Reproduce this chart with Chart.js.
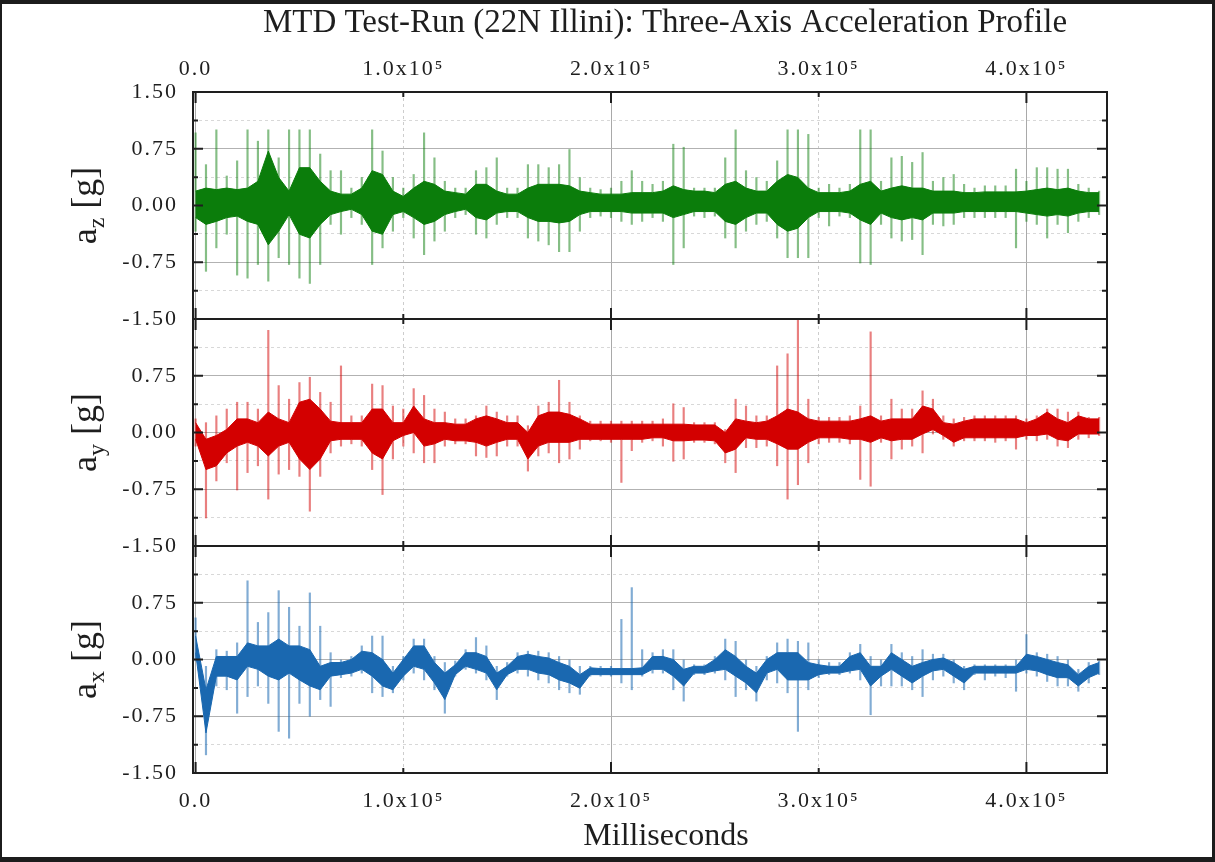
<!DOCTYPE html>
<html>
<head>
<meta charset="utf-8">
<title>MTD Test-Run (22N Illini): Three-Axis Acceleration Profile</title>
<script src="https://cdn.jsdelivr.net/npm/chart.js@4.4.1/dist/chart.umd.min.js"></script>
<style>
  html, body { margin: 0; padding: 0; background: #fff; }
  #wrap { position: relative; width: 1215px; height: 862px; overflow: hidden; }
  #edge {
    position: absolute; left: 0; top: 0; width: 1215px; height: 862px; box-sizing: border-box;
    border-top: 4px solid #1c1c1c; border-bottom: 5px solid #1c1c1c;
    border-left: 2px solid #1c1c1c; border-right: 3px solid #1c1c1c;
    pointer-events: none;
  }
</style>
</head>
<body>
<div id="wrap">
  <canvas id="accel" width="1215" height="862"></canvas>
  <div id="edge"></div>
</div>
<script>
// Time bins (ms), one every 5000 ms
const timeMs = [
  0, 5000, 10000, 15000, 20000, 25000, 30000, 35000, 40000, 45000,
  50000, 55000, 60000, 65000, 70000, 75000, 80000, 85000, 90000, 95000,
  100000, 105000, 110000, 115000, 120000, 125000, 130000, 135000, 140000, 145000,
  150000, 155000, 160000, 165000, 170000, 175000, 180000, 185000, 190000, 195000,
  200000, 205000, 210000, 215000, 220000, 225000, 230000, 235000, 240000, 245000,
  250000, 255000, 260000, 265000, 270000, 275000, 280000, 285000, 290000, 295000,
  300000, 305000, 310000, 315000, 320000, 325000, 330000, 335000, 340000, 345000,
  350000, 355000, 360000, 365000, 370000, 375000, 380000, 385000, 390000, 395000,
  400000, 405000, 410000, 415000, 420000, 425000, 430000, 435000
];

// tick values
const xTickMs = [0, 100000, 200000, 300000, 400000];
const yTickG = [-1.5, -1.125, -0.75, -0.375, 0, 0.375, 0.75, 1.125, 1.5];

// a_z [g] : dense band (core) and spike extent (peak) per bin
const azCoreHi = [
  0.19, 0.23, 0.21, 0.23, 0.21, 0.23, 0.32, 0.72, 0.37, 0.19,
  0.50, 0.50, 0.32, 0.19, 0.15, 0.15, 0.23, 0.46, 0.41, 0.19,
  0.12, 0.23, 0.32, 0.28, 0.19, 0.17, 0.15, 0.28, 0.28, 0.19,
  0.15, 0.15, 0.23, 0.28, 0.28, 0.28, 0.26, 0.19, 0.17, 0.15,
  0.15, 0.15, 0.17, 0.17, 0.17, 0.19, 0.26, 0.21, 0.19, 0.19,
  0.17, 0.28, 0.32, 0.23, 0.19, 0.19, 0.32, 0.41, 0.37, 0.23,
  0.17, 0.17, 0.17, 0.19, 0.28, 0.32, 0.19, 0.23, 0.26, 0.23,
  0.23, 0.19, 0.19, 0.19, 0.17, 0.17, 0.18, 0.18, 0.18, 0.18,
  0.19, 0.21, 0.23, 0.21, 0.23, 0.19, 0.17, 0.17
];
const azCoreLo = [
  -0.16, -0.25, -0.21, -0.16, -0.14, -0.21, -0.25, -0.52, -0.34, -0.12,
  -0.38, -0.43, -0.25, -0.12, -0.08, -0.05, -0.12, -0.34, -0.38, -0.12,
  -0.08, -0.16, -0.25, -0.21, -0.12, -0.08, -0.05, -0.16, -0.19, -0.10,
  -0.08, -0.08, -0.16, -0.21, -0.21, -0.23, -0.21, -0.12, -0.08, -0.08,
  -0.08, -0.08, -0.10, -0.10, -0.10, -0.10, -0.16, -0.12, -0.08, -0.08,
  -0.08, -0.21, -0.25, -0.16, -0.10, -0.10, -0.25, -0.34, -0.30, -0.16,
  -0.08, -0.08, -0.08, -0.10, -0.19, -0.25, -0.10, -0.16, -0.19, -0.16,
  -0.19, -0.10, -0.10, -0.10, -0.08, -0.08, -0.08, -0.08, -0.08, -0.08,
  -0.10, -0.12, -0.14, -0.12, -0.14, -0.10, -0.08, -0.08
];
const azPeakHi = [
  0.96, 0.54, 1.00, 0.39, 0.59, 1.00, 0.85, 1.00, 0.63, 1.00,
  1.00, 1.00, 0.68, 0.46, 0.46, 0.23, 0.37, 1.00, 0.72, 0.37,
  0.23, 0.41, 0.96, 0.63, 0.32, 0.23, 0.23, 0.46, 0.50, 0.63,
  0.23, 0.23, 0.54, 0.54, 0.50, 0.54, 0.74, 0.37, 0.23, 0.21,
  0.23, 0.32, 0.46, 0.32, 0.28, 0.32, 0.81, 0.77, 0.23, 0.23,
  0.23, 0.63, 1.00, 0.46, 0.37, 0.32, 0.59, 1.00, 1.00, 0.94,
  0.23, 0.28, 0.23, 0.28, 1.00, 1.00, 0.32, 0.63, 0.65, 0.57,
  0.70, 0.32, 0.37, 0.41, 0.28, 0.23, 0.26, 0.26, 0.26, 0.48,
  0.32, 0.50, 0.50, 0.48, 0.48, 0.28, 0.23, 0.19
];
const azPeakLo = [
  -0.34, -0.87, -0.56, -0.38, -0.92, -0.96, -0.78, -1.00, -0.69, -0.78,
  -0.96, -1.03, -0.78, -0.25, -0.38, -0.16, -0.25, -0.78, -0.56, -0.34,
  -0.16, -0.43, -0.65, -0.47, -0.34, -0.16, -0.12, -0.38, -0.43, -0.25,
  -0.16, -0.16, -0.43, -0.47, -0.52, -0.61, -0.61, -0.34, -0.16, -0.14,
  -0.16, -0.21, -0.25, -0.21, -0.16, -0.21, -0.78, -0.56, -0.14, -0.16,
  -0.14, -0.43, -0.56, -0.34, -0.25, -0.21, -0.43, -0.69, -0.69, -0.69,
  -0.16, -0.27, -0.14, -0.16, -0.76, -0.78, -0.25, -0.43, -0.47, -0.45,
  -0.65, -0.25, -0.27, -0.25, -0.16, -0.16, -0.16, -0.16, -0.16, -0.56,
  -0.21, -0.25, -0.43, -0.25, -0.36, -0.21, -0.16, -0.12
];

// a_y [g]
const ayCoreHi = [
  0.13, -0.09, -0.04, 0.04, 0.18, 0.18, 0.13, 0.27, 0.18, 0.13,
  0.40, 0.44, 0.31, 0.15, 0.13, 0.13, 0.13, 0.31, 0.31, 0.13,
  0.13, 0.35, 0.18, 0.13, 0.13, 0.11, 0.11, 0.18, 0.22, 0.18,
  0.13, 0.13, 0.00, 0.22, 0.27, 0.27, 0.24, 0.18, 0.11, 0.11,
  0.11, 0.11, 0.11, 0.11, 0.11, 0.11, 0.11, 0.11, 0.10, 0.10,
  0.10, 0.00, 0.18, 0.15, 0.13, 0.15, 0.22, 0.31, 0.27, 0.18,
  0.15, 0.15, 0.15, 0.15, 0.18, 0.22, 0.15, 0.18, 0.18, 0.18,
  0.35, 0.31, 0.13, 0.11, 0.15, 0.18, 0.18, 0.18, 0.18, 0.18,
  0.13, 0.18, 0.27, 0.18, 0.13, 0.22, 0.18, 0.18
];
const ayCoreLo = [
  -0.09, -0.49, -0.44, -0.27, -0.18, -0.13, -0.18, -0.31, -0.18, -0.13,
  -0.35, -0.49, -0.35, -0.11, -0.09, -0.09, -0.09, -0.27, -0.35, -0.11,
  -0.04, 0.00, -0.18, -0.15, -0.09, -0.11, -0.11, -0.13, -0.18, -0.13,
  -0.09, -0.09, -0.35, -0.18, -0.13, -0.13, -0.13, -0.09, -0.09, -0.09,
  -0.09, -0.09, -0.09, -0.09, -0.07, -0.07, -0.11, -0.11, -0.10, -0.10,
  -0.11, -0.27, -0.22, -0.07, -0.09, -0.09, -0.15, -0.22, -0.22, -0.13,
  -0.07, -0.07, -0.07, -0.09, -0.09, -0.13, -0.07, -0.11, -0.09, -0.09,
  -0.02, 0.04, -0.04, -0.13, -0.07, -0.07, -0.07, -0.07, -0.07, -0.07,
  -0.04, -0.04, -0.02, -0.09, -0.11, -0.02, -0.02, -0.02
];
const ayPeakHi = [
  0.18, 0.13, 0.22, 0.31, 0.40, 0.40, 0.31, 1.35, 0.62, 0.44,
  0.66, 0.73, 0.53, 0.40, 0.88, 0.22, 0.22, 0.64, 0.62, 0.35,
  0.31, 0.58, 0.49, 0.31, 0.27, 0.18, 0.18, 0.22, 0.35, 0.27,
  0.22, 0.22, 0.09, 0.35, 0.40, 0.69, 0.40, 0.22, 0.15, 0.15,
  0.15, 0.15, 0.15, 0.15, 0.15, 0.18, 0.38, 0.33, 0.13, 0.13,
  0.13, 0.04, 0.44, 0.35, 0.22, 0.22, 0.88, 1.04, 1.50, 0.44,
  0.20, 0.20, 0.20, 0.22, 0.35, 1.33, 0.22, 0.44, 0.31, 0.31,
  0.55, 0.44, 0.22, 0.18, 0.20, 0.22, 0.22, 0.22, 0.22, 0.22,
  0.18, 0.22, 0.31, 0.31, 0.27, 0.27, 0.20, 0.20
];
const ayPeakLo = [
  -0.18, -1.13, -0.64, -0.40, -0.76, -0.53, -0.44, -0.88, -0.55, -0.49,
  -0.58, -1.04, -0.58, -0.27, -0.18, -0.15, -0.18, -0.49, -0.82, -0.35,
  -0.18, -0.27, -0.40, -0.40, -0.18, -0.15, -0.15, -0.31, -0.33, -0.31,
  -0.18, -0.18, -0.51, -0.31, -0.27, -0.40, -0.35, -0.22, -0.11, -0.11,
  -0.13, -0.66, -0.24, -0.13, -0.11, -0.18, -0.38, -0.35, -0.13, -0.13,
  -0.15, -0.40, -0.53, -0.20, -0.20, -0.18, -0.44, -0.88, -0.69, -0.40,
  -0.15, -0.13, -0.13, -0.15, -0.62, -0.71, -0.13, -0.35, -0.22, -0.18,
  -0.27, -0.02, -0.09, -0.18, -0.11, -0.11, -0.11, -0.13, -0.11, -0.22,
  -0.09, -0.11, -0.09, -0.18, -0.20, -0.09, -0.07, -0.04
];

// a_x [g]
const axCoreHi = [
  0.31, -0.40, 0.04, 0.04, 0.04, 0.22, 0.18, 0.18, 0.27, 0.18,
  0.18, 0.13, -0.09, -0.04, -0.04, 0.00, 0.11, 0.09, 0.00, -0.18,
  0.00, 0.18, 0.18, -0.04, -0.18, -0.07, 0.09, 0.09, 0.04, -0.18,
  -0.09, 0.04, 0.07, 0.04, 0.02, -0.04, -0.09, -0.20, -0.11, -0.12,
  -0.12, -0.12, -0.12, -0.11, 0.04, 0.04, 0.00, -0.13, -0.09, -0.09,
  0.00, 0.13, 0.04, -0.09, -0.18, 0.00, 0.09, 0.09, 0.09, -0.04,
  -0.07, -0.09, -0.09, 0.04, 0.09, -0.09, -0.09, 0.09, 0.00, -0.09,
  -0.04, 0.00, 0.02, -0.04, -0.13, -0.09, -0.09, -0.09, -0.09, -0.09,
  0.07, 0.04, 0.00, -0.04, -0.07, -0.20, -0.09, -0.04
];
const axCoreLo = [
  0.09, -0.97, -0.22, -0.22, -0.27, -0.09, -0.13, -0.22, -0.27, -0.18,
  -0.27, -0.35, -0.40, -0.22, -0.20, -0.18, -0.13, -0.22, -0.35, -0.40,
  -0.22, -0.09, -0.13, -0.31, -0.53, -0.20, -0.09, -0.13, -0.18, -0.40,
  -0.20, -0.13, -0.13, -0.18, -0.20, -0.27, -0.31, -0.38, -0.20, -0.20,
  -0.20, -0.20, -0.20, -0.20, -0.13, -0.13, -0.22, -0.35, -0.18, -0.18,
  -0.15, -0.13, -0.22, -0.31, -0.44, -0.18, -0.13, -0.27, -0.27, -0.27,
  -0.20, -0.18, -0.18, -0.15, -0.13, -0.35, -0.22, -0.13, -0.22, -0.31,
  -0.22, -0.15, -0.13, -0.22, -0.31, -0.18, -0.18, -0.18, -0.18, -0.18,
  -0.13, -0.15, -0.20, -0.24, -0.24, -0.35, -0.24, -0.18
];
const axPeakHi = [
  0.55, -0.09, 0.13, 0.11, 0.22, 1.04, 0.49, 0.62, 0.91, 0.69,
  0.44, 0.88, 0.44, 0.09, 0.00, 0.04, 0.18, 0.31, 0.31, -0.09,
  0.04, 0.27, 0.27, 0.04, -0.04, -0.02, 0.13, 0.29, 0.18, -0.09,
  -0.04, 0.09, 0.11, 0.11, 0.09, 0.04, 0.00, -0.09, -0.09, -0.09,
  -0.09, 0.53, 0.95, 0.13, 0.09, 0.13, 0.13, 0.00, -0.07, -0.07,
  0.04, 0.27, 0.24, 0.00, -0.09, 0.04, 0.22, 0.27, 0.24, 0.22,
  0.00, -0.04, -0.04, 0.09, 0.20, 0.04, 0.00, 0.20, 0.09, 0.04,
  0.13, 0.07, 0.07, 0.00, -0.09, -0.07, -0.07, -0.07, -0.07, 0.00,
  0.33, 0.09, 0.07, 0.04, 0.00, -0.13, -0.04, -0.02
];
const axPeakLo = [
  -0.02, -1.26, -0.35, -0.40, -0.71, -0.49, -0.35, -0.58, -0.95, -1.04,
  -0.58, -0.75, -0.53, -0.62, -0.24, -0.22, -0.18, -0.44, -0.49, -0.44,
  -0.27, -0.18, -0.27, -0.40, -0.71, -0.22, -0.13, -0.18, -0.27, -0.53,
  -0.22, -0.18, -0.22, -0.27, -0.31, -0.40, -0.44, -0.46, -0.22, -0.22,
  -0.22, -0.31, -0.40, -0.22, -0.18, -0.18, -0.40, -0.55, -0.20, -0.20,
  -0.18, -0.27, -0.49, -0.40, -0.55, -0.27, -0.31, -0.44, -0.95, -0.40,
  -0.24, -0.20, -0.20, -0.18, -0.27, -0.73, -0.35, -0.35, -0.35, -0.40,
  -0.49, -0.27, -0.22, -0.31, -0.40, -0.20, -0.27, -0.22, -0.24, -0.42,
  -0.18, -0.22, -0.29, -0.35, -0.35, -0.42, -0.31, -0.20
];

const titleText = 'MTD Test-Run (22N Illini): Three-Axis Acceleration Profile';
const xTitleText = 'Milliseconds';

const SERIF = '"Liberation Serif", "Times New Roman", serif';
const INK = '#1e1e1e';

// major step 0.75 g, minor 0.375 g (dashed); x major every 2e5 ms, minor in between
const isMinorY = v => Math.abs(v / 0.75 - Math.round(v / 0.75)) > 1e-6;
const isMinorX = v => Math.abs(v / 200000 - Math.round(v / 200000)) > 1e-6;

const fmtMs = v => v === 0 ? '0.0' : (v / 100000).toFixed(1) + 'x10\u2075';

function toPoints(values) {
    return values.map((v, i) => ({ x: timeMs[i], y: v }));
}

function panelDatasets(axisId, color, faded, coreHi, coreLo, peakHi, peakLo) {
    return [
        {
            type: 'line', yAxisID: axisId, data: toPoints(coreHi),
            borderColor: color, backgroundColor: color, borderWidth: 1,
            pointRadius: 0, tension: 0, fill: '+1', order: 0
        },
        {
            type: 'line', yAxisID: axisId, data: toPoints(coreLo),
            borderColor: color, borderWidth: 1,
            pointRadius: 0, tension: 0, fill: false, order: 0
        },
        {
            type: 'bar', yAxisID: axisId, grouped: false,
            data: peakHi.map((v, i) => ({ x: timeMs[i], y: [peakLo[i], v] })),
            backgroundColor: faded, borderWidth: 0, barThickness: 1.5, order: 1
        }
    ];
}

function panelAxis(showTopLabel) {
    return {
        type: 'linear', position: 'left', stack: 'panels', stackWeight: 1,
        min: -1.5, max: 1.5, beginAtZero: false,
        afterFit: (scale) => { scale.width = 193; },
        afterBuildTicks: (scale) => { scale.ticks = yTickG.map(v => ({ value: v })); },
        border: { display: false, dash: (ctx) => (ctx.tick && isMinorY(ctx.tick.value)) ? [3, 3] : [] },
        grid: {
            drawTicks: false, lineWidth: 1,
            color: (ctx) => (ctx.tick && isMinorY(ctx.tick.value)) ? '#d8d8d8' : '#b2b2b2'
        },
        ticks: {
            padding: 15, autoSkip: false, color: INK,
            font: { family: SERIF, size: 22 },
            callback: (v) => {
                if (isMinorY(v)) return '';
                if (!showTopLabel && v === 1.5) return '';
                return v.toFixed(2);
            }
        }
    };
}

function timeAxis(position, height, pad) {
    return {
        type: 'linear', position: position, min: -1250, max: 438800,
        offset: false,
        afterFit: (scale) => { scale.height = height; },
        afterBuildTicks: (scale) => { scale.ticks = xTickMs.map(v => ({ value: v })); },
        border: { display: false, dash: (ctx) => (ctx.tick && isMinorX(ctx.tick.value)) ? [3, 3] : [] },
        grid: {
            offset: false, drawTicks: false, lineWidth: 1, drawOnChartArea: position === 'bottom',
            color: (ctx) => (ctx.tick && isMinorX(ctx.tick.value)) ? '#cdcdcd' : '#a9a9a9'
        },
        ticks: {
            padding: pad, autoSkip: false, maxRotation: 0, minRotation: 0,
            color: INK, font: { family: SERIF, size: 22 },
            callback: fmtMs
        }
    };
}

// Moldura preta dos três painéis com ticks para dentro
const panelFrame = {
    id: 'panelFrame',
    beforeDraw(chart) {
        chart.ctx.letterSpacing = '2px';
    },
    afterDatasetsDraw(chart) {
        const { ctx, chartArea: area, scales } = chart;
        const xs = scales.x;
        const seg = (x1, y1, x2, y2) => { ctx.moveTo(x1, y1); ctx.lineTo(x2, y2); };
        ctx.save();
        ctx.strokeStyle = INK;
        ctx.lineWidth = 2;
        [scales.yz, scales.yy, scales.yx].forEach((s) => {
            ctx.beginPath();
            s.ticks.forEach((t) => {
                const y = s.getPixelForValue(t.value);
                const len = isMinorY(t.value) ? 5 : 10;
                seg(area.left, y, area.left + len, y);
                seg(area.right, y, area.right - len, y);
            });
            xs.ticks.forEach((t) => {
                const x = xs.getPixelForValue(t.value);
                const len = isMinorX(t.value) ? 5 : 11;
                seg(x, s.top, x, s.top + len);
                seg(x, s.bottom, x, s.bottom - len);
            });
            ctx.stroke();
            ctx.strokeRect(area.left, s.top, area.right - area.left, s.bottom - s.top);
        });
        ctx.restore();
    }
};

// Títulos: principal, eixo x e a_z / a_y / a_x com subscrito
const axisTitles = {
    id: 'axisTitles',
    afterDraw(chart) {
        const { ctx, scales } = chart;
        ctx.save();
        ctx.letterSpacing = '0px';
        ctx.fillStyle = INK;
        ctx.textAlign = 'center';
        ctx.textBaseline = 'alphabetic';
        ctx.font = '33px ' + SERIF;
        ctx.fillText(titleText, 665, 32);
        ctx.font = '32px ' + SERIF;
        ctx.fillText(xTitleText, 666, 845);

        [['z', scales.yz], ['y', scales.yy], ['x', scales.yx]].forEach(([sub, s]) => {
            const cy = (s.top + s.bottom) / 2;
            ctx.save();
            ctx.translate(86, cy);
            ctx.rotate(-Math.PI / 2);
            ctx.textAlign = 'left';
            ctx.font = '36px ' + SERIF;
            const wA = ctx.measureText('a').width;
            const wRest = ctx.measureText(' [g]').width;
            ctx.font = '24px ' + SERIF;
            const wSub = ctx.measureText(sub).width;
            let x = -(wA + wSub + wRest) / 2;
            ctx.font = '36px ' + SERIF;
            ctx.fillText('a', x, 10);
            x += wA;
            ctx.font = '24px ' + SERIF;
            ctx.fillText(sub, x, 18);
            x += wSub;
            ctx.font = '36px ' + SERIF;
            ctx.fillText(' [g]', x, 10);
            ctx.restore();
        });
        ctx.restore();
    }
};

const datasets = [
    ...panelDatasets('yz', '#0b7d0b', 'rgba(11, 125, 11, 0.5)', azCoreHi, azCoreLo, azPeakHi, azPeakLo),
    ...panelDatasets('yy', '#d30000', 'rgba(211, 0, 0, 0.5)', ayCoreHi, ayCoreLo, ayPeakHi, ayPeakLo),
    ...panelDatasets('yx', '#1a68b0', 'rgba(26, 104, 176, 0.55)', axCoreHi, axCoreLo, axPeakHi, axPeakLo)
];

new Chart(document.getElementById('accel').getContext('2d'), {
    type: 'line',
    data: { datasets: datasets },
    options: {
        responsive: false,
        animation: false,
        devicePixelRatio: 1,
        layout: { padding: { left: 0, right: 108, top: 0, bottom: 0 } },
        plugins: {
            legend: { display: false },
            tooltip: { enabled: false },
            title: { display: false }
        },
        scales: {
            x: timeAxis('bottom', 89, 15),
            xTop: timeAxis('top', 92, 10),
            // the last left axis declared is stacked on top
            yx: panelAxis(false),
            yy: panelAxis(false),
            yz: panelAxis(true)
        }
    },
    plugins: [panelFrame, axisTitles]
});
</script>
</body>
</html>
